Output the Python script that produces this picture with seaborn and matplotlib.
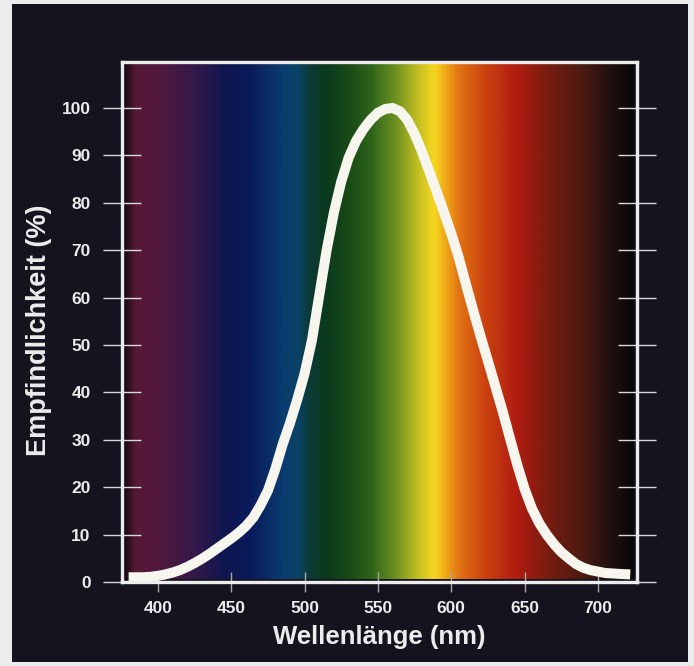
import numpy as np
import pandas as pd
import matplotlib
matplotlib.use("Agg")
import matplotlib.pyplot as plt
from matplotlib.colors import LinearSegmentedColormap
from matplotlib.patches import Rectangle
import seaborn as sns

# Relative spectral sensitivity of the eye (%)
wavelength = [380, 385, 390, 395, 400, 405, 410, 415, 420, 425, 430, 435, 440,
              445, 450, 455, 460, 465, 470, 475, 480, 485, 490, 495, 500, 505,
              510, 515, 520, 525, 530, 535, 540, 545, 550, 555, 560, 565, 570,
              575, 580, 585, 590, 595, 600, 605, 610, 615, 620, 625, 630, 635,
              640, 645, 650, 655, 660, 665, 670, 675, 680, 685, 690, 695, 700,
              705, 710, 715, 722]
sensitivity = [1.0, 1.0, 1.0, 1.1, 1.3, 1.6, 2.0, 2.5, 3.2, 4.0, 4.9, 5.9, 7.0,
               8.1, 9.2, 10.4, 11.8, 13.6, 16.2, 19.3, 23.8, 29.0, 33.5, 38.5, 44.0, 51.0,
               60.5, 70.0, 78.0, 84.5, 89.5, 93.0, 95.5, 97.5, 99.0, 99.8, 100.0, 99.3, 97.5,
               94.5, 90.8, 86.6, 82.4, 78.0, 73.5, 68.5, 62.8, 57.2, 51.8, 46.6, 41.3, 36.0,
               30.3, 24.7, 19.6, 15.5, 12.4, 10.0, 8.0, 6.3, 5.0, 3.8, 3.0, 2.5, 2.2,
               1.9, 1.8, 1.7, 1.6]

x_ticks = [400, 450, 500, 550, 600, 650, 700]
y_ticks = [0, 10, 20, 30, 40, 50, 60, 70, 80, 90, 100]

df = pd.DataFrame({"Wellenlänge (nm)": wavelength, "Empfindlichkeit (%)": sensitivity})

# Colour stops of the visible spectrum (wavelength, colour)
spectrum_stops = [
    (376, "#140b12"), (384, "#561834"), (400, "#521a3e"), (425, "#32184a"),
    (445, "#0e1650"), (462, "#0a1a5a"), (485, "#0a3c70"), (495, "#0a4266"),
    (503, "#0a3a34"), (515, "#0a3a1c"), (530, "#1a4a16"), (545, "#2e641a"),
    (562, "#6e9220"), (578, "#c8c022"), (588, "#f6d820"), (596, "#f0a818"),
    (605, "#e27414"), (622, "#cc4410"), (645, "#b01c10"), (665, "#7a1c10"),
    (690, "#4a1a10"), (708, "#221010"), (724, "#080808"),
]

BG = "#15141e"
FG = "#ececec"

sns.set_theme(style="dark")
plt.rcParams["font.family"] = ["Liberation Sans", "DejaVu Sans"]
plt.rcParams["font.weight"] = "bold"

fig = plt.figure(figsize=(6.94, 6.66), dpi=100)
fig.patch.set_facecolor("#ececec")
fig.patches.append(Rectangle((12 / 694, 4 / 666), 676 / 694, 658 / 666,
                             transform=fig.transFigure, facecolor=BG,
                             edgecolor="none", zorder=-5))

ax = fig.add_axes([122 / 694, 84 / 666, 515 / 694, 520 / 666])
ax.set_zorder(1)
ax.set_facecolor(BG)

# Spectrum background
lo, hi = spectrum_stops[0][0], spectrum_stops[-1][0]
cmap = LinearSegmentedColormap.from_list(
    "spectrum", [((w - lo) / (hi - lo), c) for w, c in spectrum_stops])
grad = np.linspace(0, 1, 700)[None, :]
ax.imshow(grad, cmap=cmap, aspect="auto", extent=[lo, hi, 0.7, 110],
          interpolation="bilinear", zorder=0)

sns.lineplot(data=df, x="Wellenlänge (nm)", y="Empfindlichkeit (%)", ax=ax,
             color="#f6f6ee", linewidth=7.2, solid_capstyle="butt",
             solid_joinstyle="round", zorder=3)

ax.set_xlim(375.5, 726.6)
ax.set_ylim(0, 109.7)
ax.set_xticks(x_ticks)
ax.set_yticks(y_ticks)
ax.grid(False)

for s in ax.spines.values():
    s.set_visible(True)
    s.set_color(FG)
    s.set_linewidth(2.4)
    s.set_zorder(4)

ax.tick_params(axis="y", direction="inout", length=27, width=1.0, color="#d8d8d8",
               left=True, right=True, labelleft=True, labelright=False,
               pad=9, labelsize=12.5, labelcolor=FG)
ax.tick_params(axis="x", direction="inout", length=14, width=1.0, color="#a8a8a8",
               bottom=True, top=False, pad=6.5, labelsize=12.5, labelcolor=FG)
for lab in ax.get_xticklabels() + ax.get_yticklabels():
    lab.set_fontweight("bold")

ax.set_xlabel("Wellenlänge (nm)", fontsize=18.5, fontweight="bold", color=FG, labelpad=7)
ax.set_ylabel("Empfindlichkeit (%)", fontsize=19.5, fontweight="bold", color=FG)
ax.yaxis.set_label_coords(-0.135, 0.485)

fig.savefig("out.png", dpi=100, facecolor=fig.get_facecolor())
